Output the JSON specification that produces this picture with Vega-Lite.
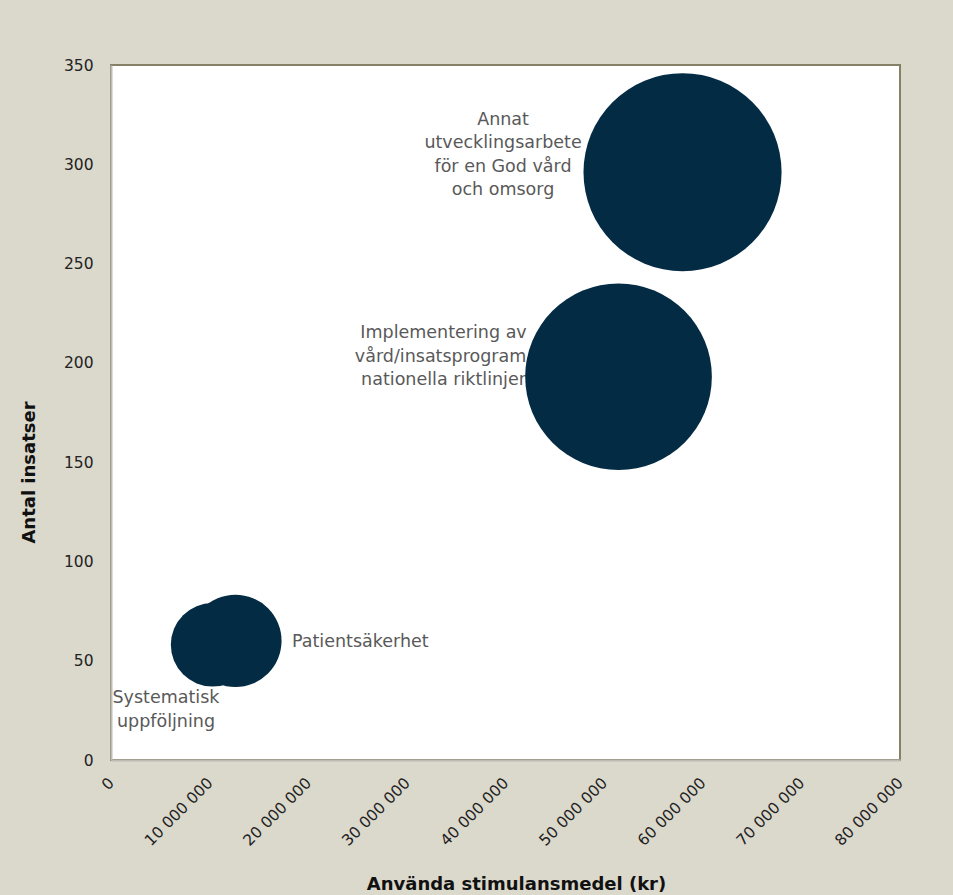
{
  "$schema": "https://vega.github.io/schema/vega-lite/v6.json",
  "width": 789,
  "height": 695,
  "autosize": "none",
  "padding": {"left": 111, "top": 65, "right": 53, "bottom": 135},
  "background": "#DBD8CC",
  "data": {
    "values": [
      {"omrade": "Annat utvecklingsarbete för en God vård och omsorg", "etikett": "Annat\nutvecklingsarbete\nför en God vård\noch omsorg", "medel": 57950000, "insatser": 296},
      {"omrade": "Implementering av vård/insatsprogram/ nationella riktlinjer", "etikett": "Implementering av\nvård/insatsprogram/\nnationella riktlinjer", "medel": 51460000, "insatser": 193},
      {"omrade": "Systematisk uppföljning", "etikett": "Systematisk\nuppföljning", "medel": 10300000, "insatser": 58},
      {"omrade": "Patientsäkerhet", "etikett": "Patientsäkerhet", "medel": 12610000, "insatser": 60}
    ]
  },
  "encoding": {
    "x": {
      "field": "medel", "type": "quantitative",
      "scale": {"domain": [0, 80000000], "nice": false, "zero": true},
      "axis": {
        "title": "Använda stimulansmedel (kr)",
        "values": [0, 10000000, 20000000, 30000000, 40000000, 50000000, 60000000, 70000000, 80000000],
        "format": ",d",
        "labelAngle": -45, "labelAlign": "right", "labelBaseline": "middle", "labelPadding": 20,
        "titleX": 405, "titleY": 129, "titleBaseline": "alphabetic", "titleAnchor": null
      }
    },
    "y": {
      "field": "insatser", "type": "quantitative",
      "scale": {"domain": [0, 350], "nice": false},
      "axis": {
        "title": "Antal insatser",
        "values": [0, 50, 100, 150, 200, 250, 300, 350],
        "labelPadding": 18,
        "titleX": -77, "titleY": 407, "titleBaseline": "alphabetic", "titleAngle": -90
      }
    }
  },
  "layer": [
    {
      "transform": [{"filter": "datum.omrade == 'Annat utvecklingsarbete för en God vård och omsorg'"}],
      "mark": {"type": "text", "align": "center", "baseline": "middle", "dx": -179.5, "dy": -52.5, "lineBreak": "\n", "lineHeight": 23.5, "font": "DejaVu Sans", "fontSize": 17.5, "color": "#595959"},
      "encoding": {"text": {"field": "etikett"}}
    },
    {
      "transform": [{"filter": "datum.omrade == 'Implementering av vård/insatsprogram/ nationella riktlinjer'"}],
      "mark": {"type": "text", "align": "center", "baseline": "middle", "dx": -175, "dy": -43.5, "lineBreak": "\n", "lineHeight": 23.5, "font": "DejaVu Sans", "fontSize": 17.5, "color": "#595959"},
      "encoding": {"text": {"field": "etikett"}}
    },
    {
      "transform": [{"filter": "datum.omrade == 'Systematisk uppföljning'"}],
      "mark": {"type": "text", "align": "center", "baseline": "middle", "dx": -46.6, "dy": 53.5, "lineBreak": "\n", "lineHeight": 23.5, "font": "DejaVu Sans", "fontSize": 17.5, "color": "#595959"},
      "encoding": {"text": {"field": "etikett"}}
    },
    {
      "transform": [{"filter": "datum.omrade == 'Patientsäkerhet'"}],
      "mark": {"type": "text", "align": "left", "baseline": "middle", "dx": 56.6, "dy": 1, "font": "DejaVu Sans", "fontSize": 17.5, "color": "#595959"},
      "encoding": {"text": {"field": "etikett"}}
    },
    {
      "mark": {"type": "point", "shape": "circle", "filled": true, "opacity": 1, "color": "#032B44", "strokeWidth": 0},
      "encoding": {
        "size": {"field": "medel", "type": "quantitative", "scale": {"domain": [0, 80000000], "range": [0, 54160], "zero": true}, "legend": null}
      }
    }
  ],
  "config": {
    "locale": {"number": {"decimal": ",", "thousands": " ", "grouping": [3], "currency": ["", " kr"]}},
    "view": {"fill": "white", "stroke": "#858167", "strokeWidth": 2},
    "axis": {
      "grid": false, "ticks": false, "tickSize": 0,
      "domainColor": "#BDBCB3", "domainWidth": 2,
      "labelFont": "DejaVu Sans", "labelFontSize": 15.5, "labelColor": "#222222",
      "titleFont": "DejaVu Sans", "titleFontSize": 18, "titleFontWeight": "bold", "titleColor": "#111111"
    }
  }
}
